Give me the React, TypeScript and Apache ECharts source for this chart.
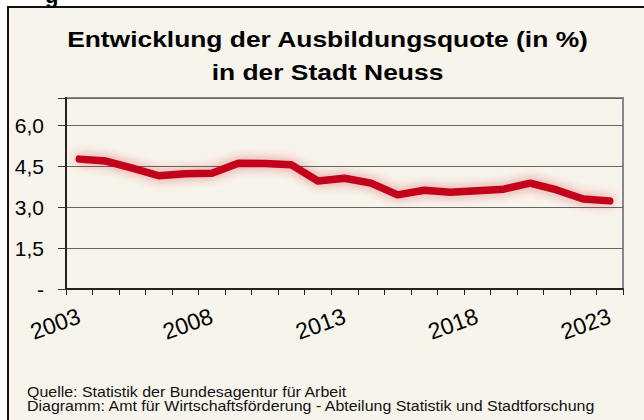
import React, { useEffect, useRef } from "react";
import * as echarts from "echarts";

const years = ["2003","2004","2005","2006","2007","2008","2009","2010","2011","2012","2013","2014","2015","2016","2017","2018","2019","2020","2021","2022","2023"];
const quote = [4.76,4.69,4.43,4.15,4.22,4.24,4.61,4.6,4.55,3.96,4.06,3.88,3.45,3.62,3.55,3.6,3.66,3.88,3.63,3.3,3.23];
const titleLines = ["Entwicklung der Ausbildungsquote (in %)", "in der Stadt Neuss"];
const footerLines = ["Quelle: Statistik der Bundesagentur für Arbeit", "Diagramm: Amt für Wirtschaftsförderung - Abteilung Statistik und Stadtforschung"];

const FONT = "'Liberation Sans', Arial, sans-serif";
const CREAM = "#F7F4EC";

export default function App() {
  const ref = useRef<HTMLDivElement>(null);
  useEffect(() => {
    const chart = echarts.init(ref.current!, undefined, { renderer: "svg" });
    const titleStyle = { fontFamily: FONT, fontSize: 22, fontWeight: "bold", fill: "#000", align: "center", verticalAlign: "middle" };
    const footStyle = { fontFamily: FONT, fontSize: 14, fill: "#111", verticalAlign: "middle" };
    chart.setOption({
      animation: false,
      backgroundColor: "#ffffff",
      graphic: [
        { type: "rect", z: -100, shape: { x: 8, y: 7, width: 700, height: 500 }, style: { fill: CREAM, stroke: "#111", lineWidth: 2 } },
        { type: "text", x: 45, y: 6, style: { text: "g", fontFamily: FONT, fontSize: 22, fontWeight: "bold", fill: "#000", verticalAlign: "bottom" } },
        { type: "text", x: 327.5, y: 39, scaleX: 1.2, style: { ...titleStyle, text: titleLines[0] } },
        { type: "text", x: 327.5, y: 72, scaleX: 1.2, style: { ...titleStyle, text: titleLines[1] } },
        { type: "text", x: 27, y: 391.5, scaleX: 1.14, style: { ...footStyle, text: footerLines[0] } },
        { type: "text", x: 27, y: 405.5, scaleX: 1.14, style: { ...footStyle, text: footerLines[1] } },
      ],
      grid: { left: 66, top: 98, right: 21, bottom: 131, show: true, backgroundColor: CREAM, borderColor: "#888", borderWidth: 2 },
      xAxis: {
        type: "category",
        data: years,
        boundaryGap: true,
        axisLine: { lineStyle: { color: "#222", width: 2 } },
        axisTick: { show: true, interval: 0, length: 6, lineStyle: { color: "#222", width: 1 } },
        axisLabel: { interval: 4, rotate: 20, fontFamily: FONT, fontSize: 23, color: "#000", margin: 26 },
        splitLine: { show: false },
      },
      yAxis: {
        type: "value",
        min: 0,
        max: 7,
        interval: 1.5,
        axisLine: { show: true, lineStyle: { color: "#222", width: 2 } },
        axisTick: { show: true, length: 8, lineStyle: { color: "#333", width: 1 } },
        axisLabel: {
          fontFamily: FONT, fontSize: 21, color: "#000", margin: 22,
          formatter: (v: number) => (v === 0 ? "-" : v > 6.9 ? "" : v.toFixed(1).replace(".", ",")),
        },
        splitLine: { show: true, lineStyle: { color: "#666", width: 1 } },
      },
      series: [
        {
          type: "line",
          data: quote,
          symbol: "none",
          smooth: false,
          lineStyle: { color: "#C3001C", width: 7.5, cap: "round", join: "round", shadowBlur: 12, shadowColor: "rgba(200,0,30,0.45)" },
        },
      ],
    });
    return () => chart.dispose();
  }, []);
  return <div ref={ref} style={{ position: "fixed", left: 0, top: 0, width: 644, height: 420 }} />;
}
